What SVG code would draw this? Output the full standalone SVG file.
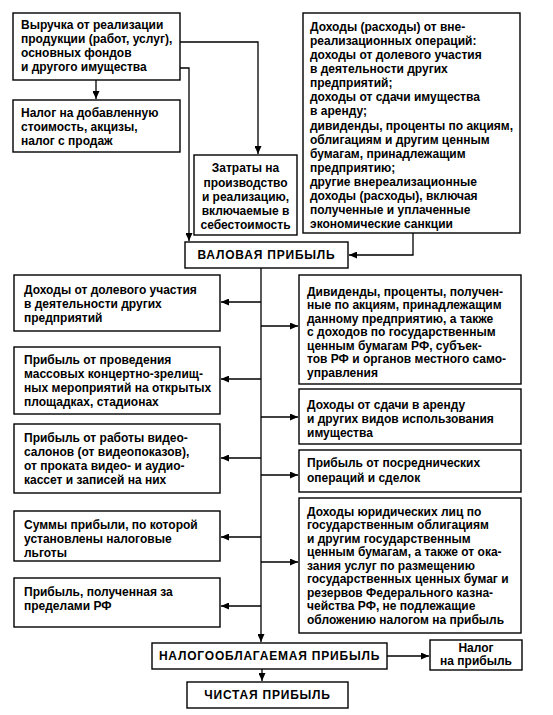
<svg xmlns="http://www.w3.org/2000/svg" width="553" height="715" viewBox="0 0 553 715">
<defs>
<style>
.box{fill:#fff;stroke:#000;stroke-width:1.4}
.t{font-family:"Liberation Sans",Arial,sans-serif;font-size:12px;font-weight:bold;fill:#000}
.c{text-anchor:middle}
.cap{letter-spacing:0.8px}
.ln{fill:none;stroke:#000;stroke-width:1.3}
</style>
<marker id="ah" markerUnits="userSpaceOnUse" markerWidth="9" markerHeight="7" refX="8" refY="3.5" orient="auto">
<path d="M0,0 L8,3.5 L0,7 z" fill="#000"/>
</marker>
</defs>
<rect width="553" height="715" fill="#fff"/>

<g id="connectors">
<path class="ln" d="M96,80 V99" marker-end="url(#ah)"/>
<path class="ln" d="M180,42 H258 V154" marker-end="url(#ah)"/>
<path class="ln" d="M180,68 H189 V241" marker-end="url(#ah)"/>
<path class="ln" d="M413,233 V255 H349" marker-end="url(#ah)"/>
<path class="ln" d="M261,268 V642" marker-end="url(#ah)"/>
<path class="ln" d="M261,302 H221" marker-end="url(#ah)"/>
<path class="ln" d="M261,379 H221" marker-end="url(#ah)"/>
<path class="ln" d="M261,458 H221" marker-end="url(#ah)"/>
<path class="ln" d="M261,537 H221" marker-end="url(#ah)"/>
<path class="ln" d="M261,606 H221" marker-end="url(#ah)"/>
<path class="ln" d="M261,326 H298" marker-end="url(#ah)"/>
<path class="ln" d="M261,417 H298" marker-end="url(#ah)"/>
<path class="ln" d="M261,475 H298" marker-end="url(#ah)"/>
<path class="ln" d="M261,562 H298" marker-end="url(#ah)"/>
<path class="ln" d="M387,656 H429" marker-end="url(#ah)"/>
<path class="ln" d="M262,669 V681" marker-end="url(#ah)"/>
</g>

<g id="n-vyruchka">
<rect class="box" x="13" y="13" width="167" height="67"/>
<text class="t" x="21" y="29">Выручка от реализации</text>
<text class="t" x="21" y="43">продукции (работ, услуг),</text>
<text class="t" x="21" y="57">основных фондов</text>
<text class="t" x="21" y="71">и другого имущества</text>
</g>

<g id="n-nds">
<rect class="box" x="13" y="100" width="167" height="52"/>
<text class="t" x="21" y="117">Налог на добавленную</text>
<text class="t" x="21" y="131">стоимость, акцизы,</text>
<text class="t" x="21" y="145">налог с продаж</text>
</g>

<g id="n-zatraty">
<rect class="box" x="194" y="155" width="103" height="80"/>
<text class="t c" x="245.5" y="172">Затраты на</text>
<text class="t c" x="245.5" y="187">производство</text>
<text class="t c" x="245.5" y="201">и реализацию,</text>
<text class="t c" x="245.5" y="215">включаемые в</text>
<text class="t c" x="245.5" y="229">себестоимость</text>
</g>

<g id="n-vnereal">
<rect class="box" x="303" y="13" width="217" height="220"/>
<text class="t" x="310" y="31">Доходы (расходы) от вне-</text>
<text class="t" x="310" y="45">реализационных операций:</text>
<text class="t" x="310" y="59">доходы от долевого участия</text>
<text class="t" x="310" y="73">в деятельности других</text>
<text class="t" x="310" y="87">предприятий;</text>
<text class="t" x="310" y="101">доходы от сдачи имущества</text>
<text class="t" x="310" y="115">в аренду;</text>
<text class="t" x="310" y="130">дивиденды, проценты по акциям,</text>
<text class="t" x="310" y="144">облигациям и другим ценным</text>
<text class="t" x="310" y="158">бумагам, принадлежащим</text>
<text class="t" x="310" y="172">предприятию;</text>
<text class="t" x="310" y="186">другие внереализационные</text>
<text class="t" x="310" y="200">доходы (расходы), включая</text>
<text class="t" x="310" y="214">полученные и уплаченные</text>
<text class="t" x="310" y="228">экономические санкции</text>
</g>

<g id="n-valovaya">
<rect class="box" x="185" y="242" width="163" height="26"/>
<text class="t c cap" x="266.5" y="259">ВАЛОВАЯ ПРИБЫЛЬ</text>
</g>

<g id="n-dolevoe">
<rect class="box" x="14" y="275" width="206" height="56"/>
<text class="t" x="24" y="294">Доходы от долевого участия</text>
<text class="t" x="24" y="308">в деятельности других</text>
<text class="t" x="24" y="322">предприятий</text>
</g>

<g id="n-massovye">
<rect class="box" x="14" y="347" width="206" height="67"/>
<text class="t" x="24" y="364">Прибыль от проведения</text>
<text class="t" x="24" y="378">массовых концертно-зрелищ-</text>
<text class="t" x="24" y="392">ных мероприятий на открытых</text>
<text class="t" x="24" y="406">площадках, стадионах</text>
</g>

<g id="n-video">
<rect class="box" x="14" y="424" width="206" height="69"/>
<text class="t" x="24" y="442">Прибыль от работы видео-</text>
<text class="t" x="24" y="456">салонов (от видеопоказов),</text>
<text class="t" x="24" y="470">от проката видео- и аудио-</text>
<text class="t" x="24" y="484">кассет и записей на них</text>
</g>

<g id="n-lgoty">
<rect class="box" x="14" y="511" width="206" height="50"/>
<text class="t" x="24" y="529">Суммы прибыли, по которой</text>
<text class="t" x="24" y="543">установлены налоговые</text>
<text class="t" x="24" y="557">льготы</text>
</g>

<g id="n-rf">
<rect class="box" x="14" y="578" width="206" height="49"/>
<text class="t" x="24" y="596">Прибыль, полученная за</text>
<text class="t" x="24" y="610">пределами РФ</text>
</g>

<g id="n-dividendy">
<rect class="box" x="299" y="275" width="222" height="109"/>
<text class="t" x="307" y="296">Дивиденды, проценты, получен-</text>
<text class="t" x="307" y="309">ные по акциям, принадлежащим</text>
<text class="t" x="307" y="323">данному предприятию, а также</text>
<text class="t" x="307" y="336">с доходов по государственным</text>
<text class="t" x="307" y="350">ценным бумагам РФ, субъек-</text>
<text class="t" x="307" y="363">тов РФ и органов местного само-</text>
<text class="t" x="307" y="377">управления</text>
</g>

<g id="n-arenda">
<rect class="box" x="299" y="389" width="222" height="55"/>
<text class="t" x="307" y="409">Доходы от сдачи в аренду</text>
<text class="t" x="307" y="423">и других видов использования</text>
<text class="t" x="307" y="437">имущества</text>
</g>

<g id="n-posrednik">
<rect class="box" x="299" y="450" width="222" height="42"/>
<text class="t" x="307" y="467">Прибыль от посреднических</text>
<text class="t" x="307" y="482">операций и сделок</text>
</g>

<g id="n-yurlica">
<rect class="box" x="299" y="498" width="222" height="135"/>
<text class="t" x="307" y="516">Доходы юридических лиц по</text>
<text class="t" x="307" y="529">государственным облигациям</text>
<text class="t" x="307" y="543">и другим государственным</text>
<text class="t" x="307" y="556">ценным бумагам, а также от ока-</text>
<text class="t" x="307" y="570">зания услуг по размещению</text>
<text class="t" x="307" y="583">государственных ценных бумаг и</text>
<text class="t" x="307" y="597">резервов Федерального казна-</text>
<text class="t" x="307" y="610">чейства РФ, не подлежащие</text>
<text class="t" x="307" y="624">обложению налогом на прибыль</text>
</g>

<g id="n-nalogooblag">
<rect class="box" x="152" y="643" width="235" height="26"/>
<text class="t c cap" x="269.5" y="660">НАЛОГООБЛАГАЕМАЯ ПРИБЫЛЬ</text>
</g>

<g id="n-nalog">
<rect class="box" x="430" y="640" width="92" height="30"/>
<text class="t c" x="476" y="652">Налог</text>
<text class="t c" x="476" y="665">на прибыль</text>
</g>

<g id="n-chistaya">
<rect class="box" x="187" y="682" width="161" height="26"/>
<text class="t c cap" x="267.5" y="699">ЧИСТАЯ ПРИБЫЛЬ</text>
</g>
</svg>
